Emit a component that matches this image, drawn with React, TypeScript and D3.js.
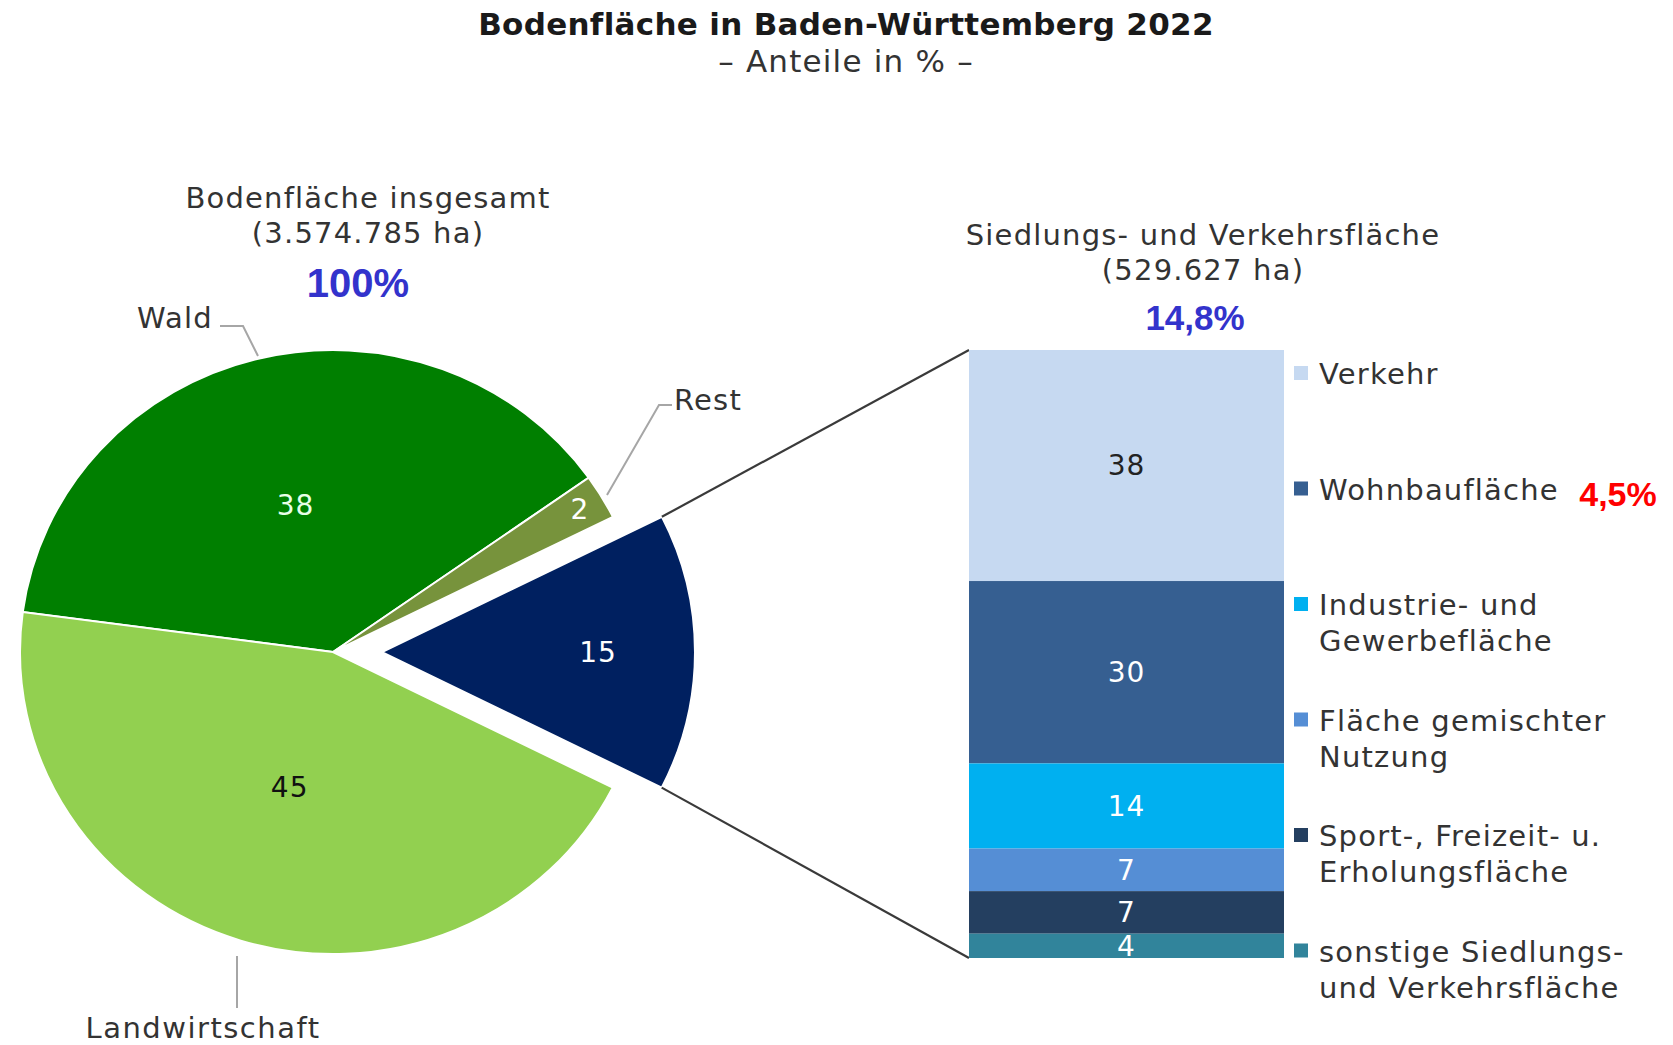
import React from 'react';
import * as d3 from 'd3';

// ---------- data ----------
const pieCategories = ['Wald', 'Rest', 'Siedlungs- und Verkehrsfläche', 'Landwirtschaft'];
const pieValues = [38.1, 2.4, 14.8, 44.7];
const pieColors = ['#007f00', '#77933c', '#002060', '#92d050'];
const pieLabelColors = ['#e8ffe8', '#ffffff', '#ffffff', '#111111'];

const barCategories = [
  'Verkehr',
  'Wohnbaufläche',
  'Industrie- und Gewerbefläche',
  'Fläche gemischter Nutzung',
  'Sport-, Freizeit- u. Erholungsfläche',
  'sonstige Siedlungs- und Verkehrsfläche',
];
const barLegendLines = [
  ['Verkehr'],
  ['Wohnbaufläche'],
  ['Industrie- und', 'Gewerbefläche'],
  ['Fläche gemischter', 'Nutzung'],
  ['Sport-, Freizeit- u.', 'Erholungsfläche'],
  ['sonstige Siedlungs-', 'und Verkehrsfläche'],
];
const barValues = [38, 30, 14, 7, 7, 4];
const barColors = ['#c6d9f1', '#365f91', '#00b0f0', '#558ed5', '#243f60', '#31849b'];
const barLabelColors = ['#222222', '#ffffff', '#ffffff', '#ffffff', '#ffffff', '#ffffff'];

const title = 'Bodenfläche in Baden-Württemberg 2022';
const subtitle = '– Anteile in % –';
const pieTitle = ['Bodenfläche insgesamt', '(3.574.785 ha)'];
const pieTotal = '100%';
const barTitle = ['Siedlungs- und Verkehrsfläche', '(529.627 ha)'];
const barTotal = '14,8%';
const wohnbauShare = '4,5%';

// ---------- layout ----------
const W = 1673;
const H = 1045;
const FONT = '"DejaVu Sans", Verdana, sans-serif';
const BOLDFONT = '"Liberation Sans", Arial, sans-serif';
const TXT = '#333';
const FS = 29;
const LS = 1.2;
const cx = 333;
const cy = 652;
const rx = 313;
const ry = 302;
const explodeIndex = 2;
const explodeDist = 49;
const labelFrac = [0.5, 0.92, 0.69, 0.47];

const barX0 = 969;
const barX1 = 1284;
const barTop = 350;
const barBottom = 958;

export default function App() {
  const pie = d3
    .pie<number>()
    .sort(null)
    .startAngle((-82.4 * Math.PI) / 180)
    .endAngle((-82.4 * Math.PI) / 180 + 2 * Math.PI)(pieValues);
  const arc = d3.arc<d3.PieArcDatum<number>>().innerRadius(0).outerRadius(rx);
  const sy = ry / rx;
  const fmt = d3.format('.0f');

  const pt = (a: number, f: number, ox = 0, oy = 0): [number, number] => [
    cx + ox + f * rx * Math.sin(a),
    cy + oy - f * ry * Math.cos(a),
  ];

  const offsets = pie.map((d, i) => {
    if (i !== explodeIndex) return [0, 0];
    const m = (d.startAngle + d.endAngle) / 2;
    return [explodeDist * Math.sin(m), -explodeDist * Math.cos(m)];
  });

  const ex = pie[explodeIndex];
  const [eox, eoy] = offsets[explodeIndex];
  const upper = pt(ex.startAngle, 1, eox, eoy);
  const lower = pt(ex.endAngle, 1, eox, eoy);

  const y = d3.scaleLinear().domain([0, d3.sum(barValues)]).range([barTop, barBottom]);
  const cum = [0, ...d3.cumsum(barValues)];

  const legendY0 = 384;
  const legendStep = 115.5;

  return (
    <svg
      width={W}
      height={H}
      style={{ position: 'absolute', left: 0, top: 0, background: '#fff' }}
      fontFamily={FONT}
    >
      <rect width={W} height={H} fill="#fff" />
      {/* titles */}
      <text x={846} y={35} textAnchor="middle" fontWeight="bold" fontSize={31} letterSpacing={0.3} fill="#1a1a1a">
        {title}
      </text>
      <text x={846} y={72} textAnchor="middle" fontSize={31} letterSpacing={1.2} fill={TXT}>
        {subtitle}
      </text>

      {/* pie heading */}
      {pieTitle.map((t, i) => (
        <text key={t} x={368} y={208 + i * 35} textAnchor="middle" fontSize={FS} letterSpacing={LS} fill={TXT}>
          {t}
        </text>
      ))}
      <text x={358} y={297} textAnchor="middle" fontSize={40} fontWeight="bold" fontFamily={BOLDFONT} fill="#3333cc">
        {pieTotal}
      </text>

      {/* pie */}
      {pie.map((d, i) => (
        <g key={pieCategories[i]} transform={`translate(${cx + offsets[i][0]},${cy + offsets[i][1]}) scale(1,${sy})`}>
          <path d={arc(d) || ''} fill={pieColors[i]} stroke="#fff" strokeWidth={2} vectorEffect="non-scaling-stroke" />
        </g>
      ))}
      {pie.map((d, i) => {
        const m = (d.startAngle + d.endAngle) / 2;
        const [lx, ly] = pt(m, labelFrac[i], offsets[i][0], offsets[i][1]);
        return (
          <text key={'l' + i} x={lx} y={ly} dy="0.35em" textAnchor="middle" fontSize={28} letterSpacing={1} fill={pieLabelColors[i]}>
            {fmt(pieValues[i])}
          </text>
        );
      })}

      {/* leader lines & outer labels */}
      <polyline points="220,326 243,326 258,356" fill="none" stroke="#a6a6a6" strokeWidth={2} />
      <text x={137} y={328} fontSize={FS} letterSpacing={LS} fill={TXT}>{pieCategories[0]}</text>
      <polyline points="607,495 659,405 672,405" fill="none" stroke="#a6a6a6" strokeWidth={2} />
      <text x={674} y={410} fontSize={FS} letterSpacing={LS} fill={TXT}>{pieCategories[1]}</text>
      <line x1={237} y1={956} x2={237} y2={1008} stroke="#a6a6a6" strokeWidth={2} />
      <text x={203} y={1038} textAnchor="middle" fontSize={FS} letterSpacing={1.5} fill={TXT}>{pieCategories[3]}</text>

      {/* connectors */}
      <line x1={upper[0]} y1={upper[1]} x2={barX0} y2={barTop} stroke="#3a3a3a" strokeWidth={2.2} />
      <line x1={lower[0]} y1={lower[1]} x2={barX0} y2={barBottom} stroke="#3a3a3a" strokeWidth={2.2} />

      {/* bar heading */}
      {barTitle.map((t, i) => (
        <text key={t} x={1203} y={245 + i * 35} textAnchor="middle" fontSize={FS} letterSpacing={LS} fill={TXT}>
          {t}
        </text>
      ))}
      <text x={1195} y={330} textAnchor="middle" fontSize={35} fontWeight="bold" fontFamily={BOLDFONT} fill="#3333cc">
        {barTotal}
      </text>

      {/* stacked bar */}
      {barValues.map((v, i) => (
        <rect
          key={barCategories[i]}
          x={barX0}
          y={y(cum[i])}
          width={barX1 - barX0}
          height={y(cum[i + 1]) - y(cum[i])}
          fill={barColors[i]}
        />
      ))}
      {barValues.map((v, i) => (
        <text
          key={'b' + i}
          x={(barX0 + barX1) / 2}
          y={(y(cum[i]) + y(cum[i + 1])) / 2}
          dy="0.35em"
          textAnchor="middle"
          fontSize={28}
          letterSpacing={1}
          fill={barLabelColors[i]}
        >
          {v}
        </text>
      ))}

      {/* legend */}
      {barLegendLines.map((lines, i) => {
        const by = legendY0 + i * legendStep;
        return (
          <g key={'lg' + i}>
            <rect x={1294} y={by - 18} width={14} height={14} fill={barColors[i]} />
            {lines.map((ln, j) => (
              <text key={ln} x={1319} y={by + j * 36} fontSize={FS} letterSpacing={LS} fill={TXT}>
                {ln}
              </text>
            ))}
          </g>
        );
      })}
      <text x={1618} y={506} textAnchor="middle" fontSize={34} fontWeight="bold" fontFamily={BOLDFONT} fill="#ff0000">
        {wohnbauShare}
      </text>
    </svg>
  );
}
